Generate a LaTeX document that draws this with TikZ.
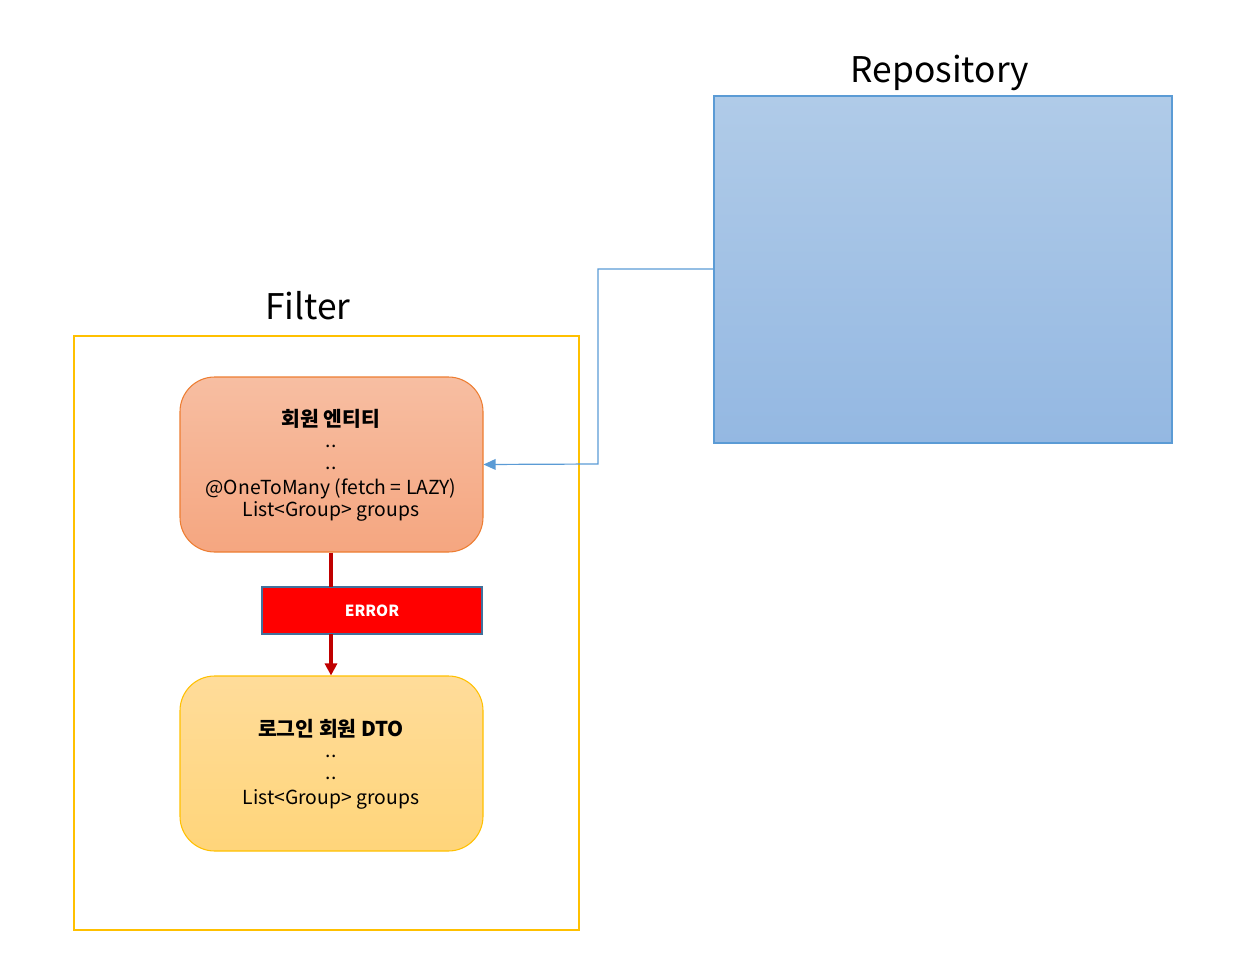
\documentclass[tikz,border=0pt]{standalone}
\usepackage{fontspec}
\setmainfont{Noto Sans CJK KR}
\usetikzlibrary{arrows.meta}
\definecolor{gold}{HTML}{FFC000}
\definecolor{orangeb}{HTML}{ED7D31}
\definecolor{blueb}{HTML}{5B9BD5}
\definecolor{darkred}{HTML}{C00000}
\definecolor{errb}{HTML}{41719C}
\tikzset{
  card/.style={rounded corners=26pt, line width=0.8pt},
  body/.style={font=\fontsize{14.5}{17}\selectfont, inner sep=0pt, anchor=center},
  bodyb/.style={body, font=\fontsize{15.3}{18}\selectfont\bfseries},
  big/.style={font=\fontsize{26.5}{30}\selectfont, inner sep=0pt},
  redline/.style={draw=darkred, line width=2.5pt},
}
\begin{document}
\begin{tikzpicture}[x=0.75pt,y=-0.75pt]
\useasboundingbox (0,0) rectangle (1236,974);
% Filter frame
\node[draw=gold, line width=1.5pt, minimum width=505*0.75pt, minimum height=594*0.75pt, inner sep=0pt] (filter) at (326.5,633) {};
\node[big] (filterlbl) at (308,306) {Filter};
% Repository
\node[draw=blueb, line width=0.8pt, top color={rgb,255:red,176;green,203;blue,232}, bottom color={rgb,255:red,148;green,184;blue,226}, minimum width=458*0.75pt, minimum height=347*0.75pt, inner sep=0pt] (repo) at (943,269.5) {};
\node[big] (repolbl) at (940,73) {Repository};
% Entity box
\node[card, draw=orangeb, top color={rgb,255:red,247;green,190;blue,162}, bottom color={rgb,255:red,245;green,166;blue,128}, minimum width=303*0.75pt, minimum height=175*0.75pt, inner sep=0pt] (entity) at (331.5,464.5) {};
\node[bodyb] (e1) at (331,419) {회원 엔티티};
\node[body] (e2) at (331,446) {..};
\node[body] (e3) at (331,468) {..};
\node[body] (e4) at (331,489) {@OneToMany (fetch = LAZY)};
\node[body] (e5) at (331,511) {List<Group> groups};
% DTO box
\node[card, draw=gold, top color={rgb,255:red,255;green,220;blue,154}, bottom color={rgb,255:red,255;green,213;blue,122}, minimum width=303*0.75pt, minimum height=175*0.75pt, inner sep=0pt] (dto) at (331.5,763.5) {};
\node[bodyb] (d1) at (331,729) {로그인 회원 DTO};
\node[body] (d2) at (331,756) {..};
\node[body] (d3) at (331,778) {..};
\node[body] (d4) at (331,799) {List<Group> groups};
% Error
\node[draw=errb, line width=1.2pt, fill={rgb,255:red,255;green,0;blue,0}, minimum width=220*0.75pt, minimum height=47*0.75pt, inner sep=0pt, text=white, font=\fontsize{11.5}{14}\selectfont\bfseries] (err) at (372,610.5) {ERROR};
% connectors
\coordinate (c1) at (331,587);
\coordinate (c2) at (331,634);
\draw[redline] (entity.south -| c1) -- (c1);
\draw[redline, -{Triangle[length=9pt,width=9pt]}] (c2) -- (dto.north -| c2);
\draw[blueb, line width=0.9pt, -{Triangle[length=9pt,width=8pt]}] (repo.west |- 0,269) -- (598,269) -- (598,464) -- (entity.east);
\end{tikzpicture}
\end{document}
